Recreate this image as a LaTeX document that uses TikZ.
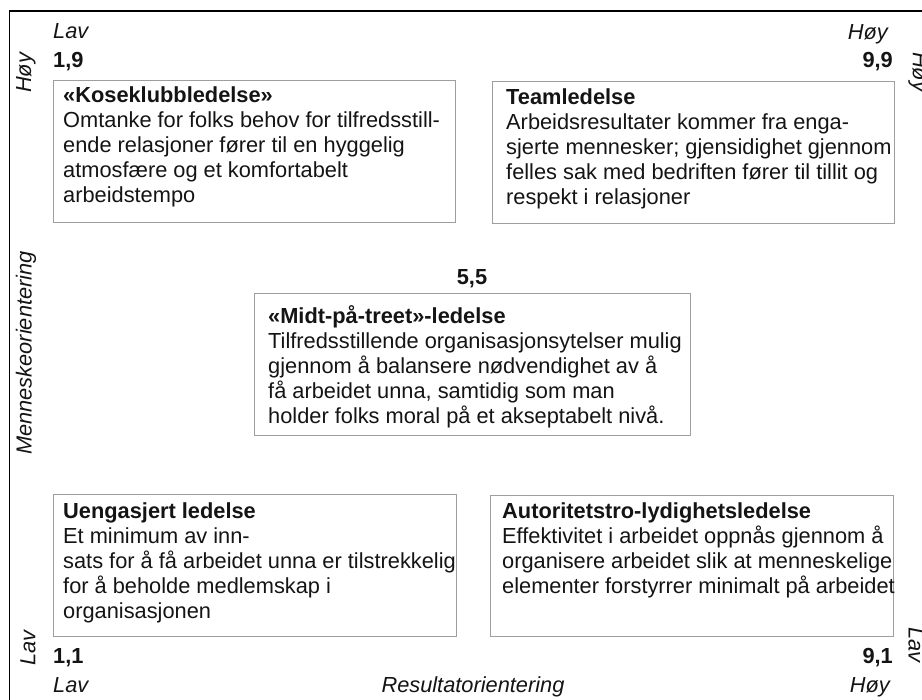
\documentclass[tikz,border=0pt]{standalone}
\usepackage{fontspec}
\setmainfont{Liberation Sans}
\begin{document}
\begin{tikzpicture}[x=1pt,y=-1pt,
  every node/.style={inner sep=0pt, text=black!92},
  lbl/.style={font=\fontsize{21.8}{25}\selectfont\itshape},
  num/.style={font=\fontsize{21.8}{25}\selectfont\bfseries},
  qbox/.style={draw=black!38, line width=1.1pt, anchor=north west},
  qtext/.style={anchor=north west, align=left, font=\fontsize{21.8}{25}\selectfont}]
\useasboundingbox (0,0) rectangle (922,700);
\clip (0,0) rectangle (922,700);
% frame
\coordinate (fc) at (9.5,11);
\coordinate (fb) at (9.5,702);
\coordinate (fr) at (924,11);
\draw[line width=1.5pt] (fb) -- (fc) -- (fr);
% boxes
\node[qbox, minimum width=402pt, minimum height=142pt] (b1) at (53,80) {};
\node[qbox, minimum width=402pt, minimum height=142pt] (b2) at (492,81) {};
\node[qbox, minimum width=436pt, minimum height=142pt] (bm) at (254,293) {};
\node[qbox, minimum width=403pt, minimum height=142pt] (b3) at (53,494) {};
\node[qbox, minimum width=403pt, minimum height=141pt] (b4) at (490,495) {};
% box texts
\node[qtext] (t1) at (63,84) {\rule{0pt}{18pt}\textbf{«Koseklubbledelse»}\\
Omtanke for folks behov for tilfredsstill-\\
ende relasjoner fører til en hyggelig\\
atmosfære og et komfortabelt\\
arbeidstempo};
\node[qtext] (t2) at (506,86) {\rule{0pt}{18pt}\textbf{Teamledelse}\\
Arbeidsresultater kommer fra enga-\\
sjerte mennesker; gjensidighet gjennom\\
felles sak med bedriften fører til tillit og\\
respekt i relasjoner};
\node[qtext] (tm) at (268,305) {\rule{0pt}{18pt}\textbf{«Midt-på-treet»-ledelse}\\
Tilfredsstillende organisasjonsytelser mulig\\
gjennom å balansere nødvendighet av å\\
få arbeidet unna, samtidig som man\\
holder folks moral på et akseptabelt nivå.};
\node[qtext] (t3) at (63,500) {\rule{0pt}{18pt}\textbf{Uengasjert ledelse}\\
Et minimum av inn-\\
sats for å få arbeidet unna er tilstrekkelig\\
for å beholde medlemskap i\\
organisasjonen};
\node[qtext] (t4) at (502,500) {\rule{0pt}{18pt}\textbf{Autoritetstro-lydighetsledelse}\\
Effektivitet i arbeidet oppnås gjennom å\\
organisere arbeidet slik at menneskelige\\
elementer forstyrrer minimalt på arbeidet};
% corner labels
\node[lbl, anchor=base west] (ltl) at (53,39) {Lav};
\node[num, anchor=base west] (n19) at (53,68) {1,9};
\node[lbl, anchor=base east] (ltr) at (888,40) {Høy};
\node[num, anchor=base east] (n99) at (893,68) {9,9};
\node[num, anchor=base] (n55) at (472,285) {5,5};
\node[num, anchor=base west] (n11) at (53,663) {1,1};
\node[num, anchor=base east] (n91) at (893,663) {9,1};
\node[lbl, anchor=base west] (lbl) at (53,692) {Lav};
\node[lbl, anchor=base] (xax) at (473,692) {Resultatorientering};
\node[lbl, anchor=base east] (lbr) at (890,692) {Høy};
% rotated labels
\node[lbl, rotate=90] (lhl) at (26,73) {Høy};
\node[lbl, rotate=90] (yax) at (26,353) {Menneskeorientering};
\node[lbl, rotate=90] (lll) at (28,648) {Lav};
\node[lbl, rotate=-90] (lhr) at (918,72) {Høy};
\node[lbl, rotate=-90] (llr) at (916,645) {Lav};
\end{tikzpicture}
\end{document}
